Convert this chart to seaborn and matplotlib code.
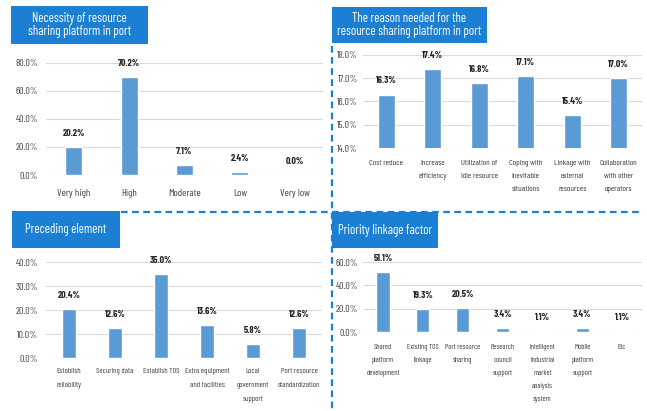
import matplotlib
matplotlib.use("Agg")
import matplotlib.pyplot as plt
from matplotlib.patches import Rectangle
from matplotlib.lines import Line2D
from matplotlib.ticker import PercentFormatter, MultipleLocator
import seaborn as sns
import pandas as pd

# ---- data -------------------------------------------------------------
necessity_cats = ["Very high", "High", "Moderate", "Low", "Very low"]
necessity_vals = [20.2, 70.2, 7.1, 2.4, 0.0]

reason_cats = ["Cost reduce", "Increase\nefficiency", "Utilization of\nidle resource",
               "Coping with\ninevitable\nsituations", "Linkage with\nexternal\nresources",
               "Collaboration\nwith other\noperators"]
reason_vals = [16.3, 17.4, 16.8, 17.1, 15.4, 17.0]

preceding_cats = ["Establish\nreliability", "Securing data", "Establish TOS",
                  "Extra equipment\nand facilities", "Local\ngovernment\nsupport",
                  "Port resource\nstandardization"]
preceding_vals = [20.4, 12.6, 35.0, 13.6, 5.8, 12.6]

priority_cats = ["Shared\nplatform\ndevelopment", "Existing TOS\nlinkage", "Port resource\nsharing",
                 "Research\ncouncil\nsupport", "Intelligent\nindustrial\nmarket\nanalysis\nsystem",
                 "Mobile\nplatform\nsupport", "Etc"]
priority_vals = [51.1, 19.3, 20.5, 3.4, 1.1, 3.4, 1.1]

titles = ["Necessity of resource\nsharing platform in port",
          "The reason needed for the\nresource sharing platform in port",
          "Preceding element",
          "Priority linkage factor"]

# ---- style ------------------------------------------------------------
sns.set_theme(style="white")
plt.rcParams["font.family"] = ["Barlow Condensed", "DejaVu Sans"]

BAR = "#5b9bd5"
HEAD = "#1b80d3"
GRID = "#d9d9d9"
TXT = "#404040"
W, H = 647, 411

fig = plt.figure(figsize=(W / 100, H / 100), dpi=100)


def px_axes(x0, x1, ytop, ybot):
    return fig.add_axes([x0 / W, 1 - ybot / H, (x1 - x0) / W, (ybot - ytop) / H])


def panel(ax, cats, vals, ylim, step, width, xfs, xpad, ypad, lsp):
    df = pd.DataFrame({"cat": cats, "val": vals})
    sns.barplot(data=df, x="cat", y="val", color=BAR, width=width,
                saturation=1, ax=ax, errorbar=None)
    ax.set_ylim(*ylim)
    ax.set_xlim(-0.5, len(cats) - 0.5)
    ax.yaxis.set_major_locator(MultipleLocator(step))
    ax.yaxis.set_major_formatter(PercentFormatter(decimals=1))
    ax.grid(axis="y", color=GRID, linewidth=0.8)
    ax.set_axisbelow(True)
    for s in ax.spines.values():
        s.set_visible(False)
    ax.set_xlabel("")
    ax.set_ylabel("")
    ax.tick_params(axis="both", length=0, colors=TXT)
    ax.tick_params(axis="y", labelsize=7.2, pad=ypad)
    ax.tick_params(axis="x", labelsize=xfs, pad=xpad)
    for t in ax.get_xticklabels():
        t.set_linespacing(lsp)
        t.set_va("top")
    for c in ax.containers:
        ax.bar_label(c, fmt="%.1f%%", padding=6.5, fontsize=7,
                     fontweight="bold", color="#262626", clip_on=False)


ax1 = px_axes(46, 323, 63, 175)
panel(ax1, necessity_cats, necessity_vals, (0, 80), 20, 0.31, 7.5, 10, 5.5, 1.4)

ax2 = px_axes(363, 642, 55, 148)
panel(ax2, reason_cats, reason_vals, (14, 18), 1, 0.36, 6.1, 8.5, 3.5, 2.25)

ax3 = px_axes(46, 322, 262, 358)
panel(ax3, preceding_cats, preceding_vals, (0, 40), 10, 0.31, 5.7, 7, 5.5, 2.4)

ax4 = px_axes(363, 642, 262, 332)
panel(ax4, priority_cats, priority_vals, (0, 60), 20, 0.33, 5.5, 8.5, 3.5, 2.2)

# ---- title boxes --------------------------------------------------------
boxes = [(11, 148, 6, 44), (332, 487, 7, 43), (12, 120, 211, 248), (332, 438, 212, 248)]
for (x0, x1, y0, y1), t in zip(boxes, titles):
    fig.patches.append(Rectangle((x0 / W, 1 - y1 / H), (x1 - x0) / W, (y1 - y0) / H,
                                 transform=fig.transFigure, facecolor=HEAD,
                                 edgecolor="none", zorder=3))
    fig.text((x0 + x1) / 2 / W, 1 - (y0 + y1) / 2 / H, t, color="white",
             fontsize=9.2, ha="center", va="center", linespacing=1.05, zorder=4)

# ---- dashed separators --------------------------------------------------
dash = dict(color=HEAD, linewidth=1.6, linestyle=(0, (3, 2)), transform=fig.transFigure)
fig.add_artist(Line2D([332 / W, 332 / W], [1 - 46 / H, 1 - 409 / H], **dash))
fig.add_artist(Line2D([121 / W, 643 / W], [1 - 212 / H, 1 - 212 / H], **dash))

fig.savefig("out.png", dpi=100)
